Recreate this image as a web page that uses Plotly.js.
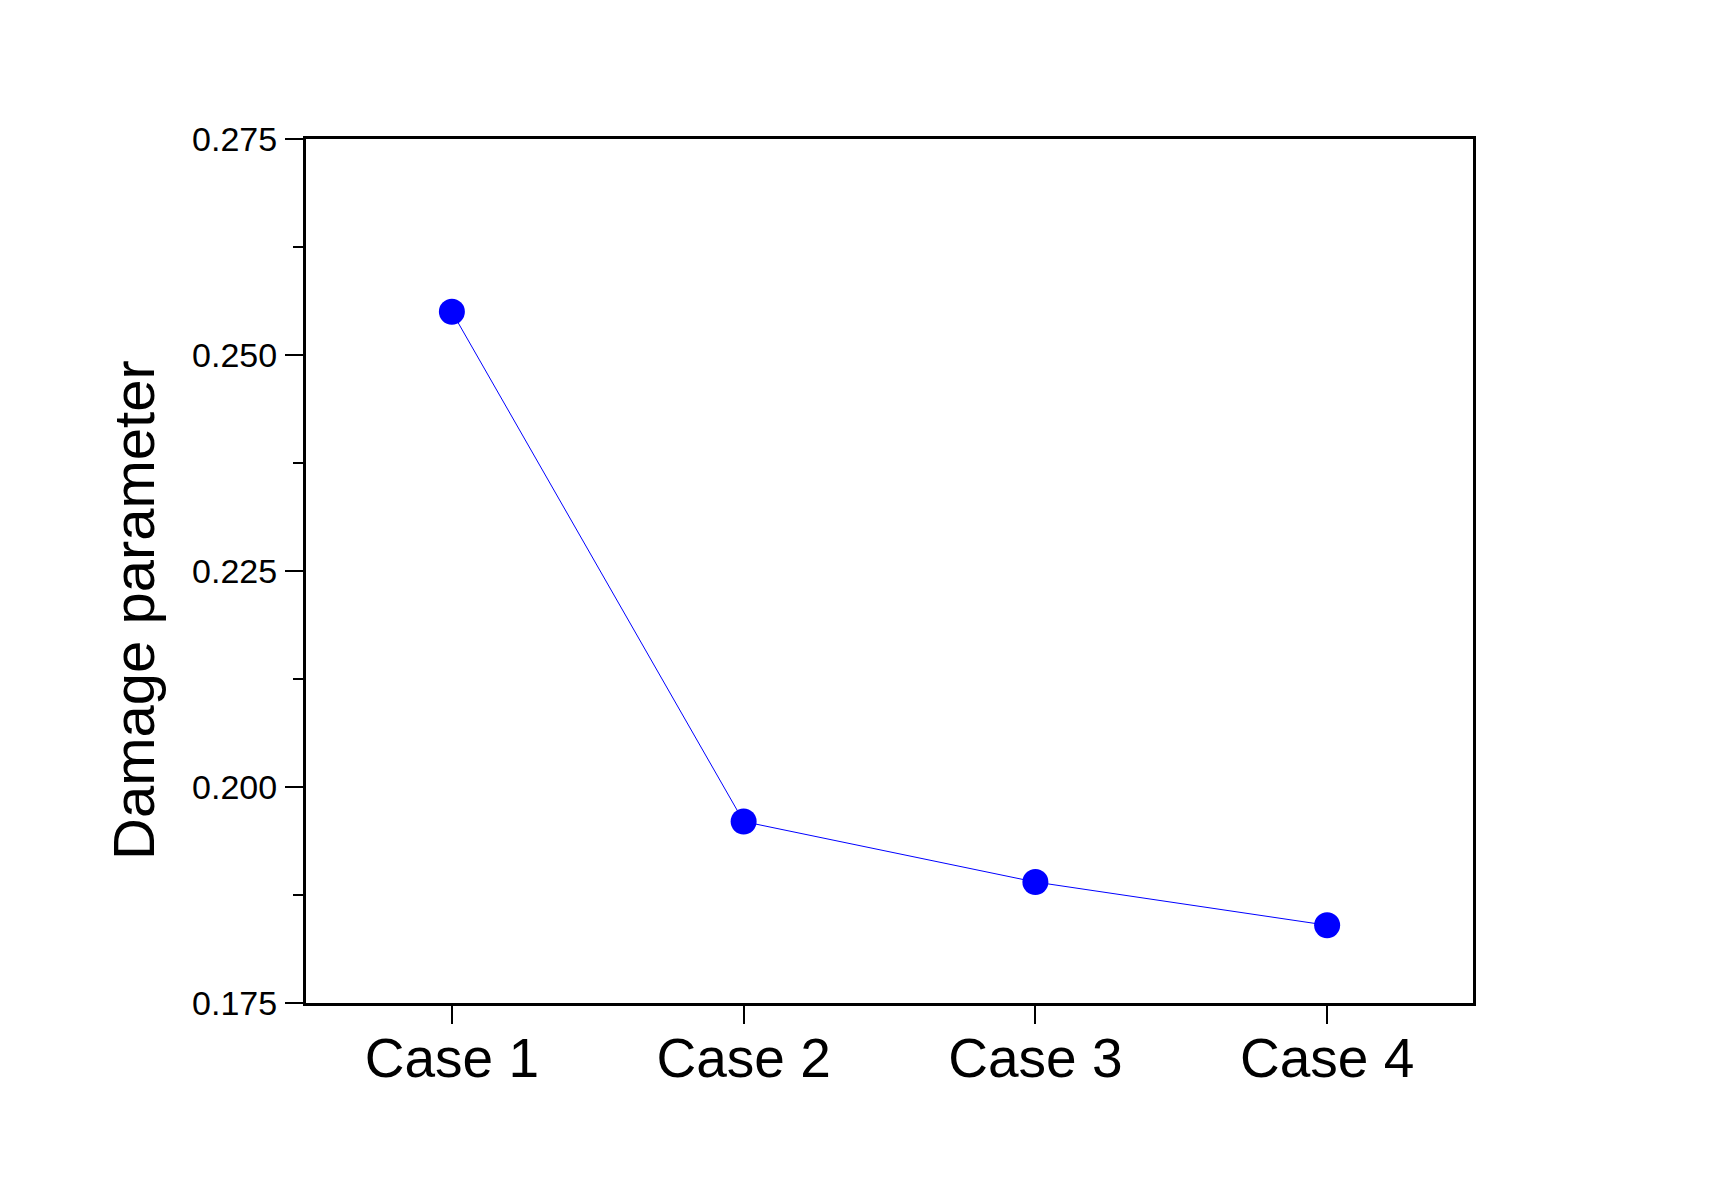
<!DOCTYPE html>
<html>
<head>
<meta charset="utf-8">
<script src="https://cdn.plot.ly/plotly-3.0.1.min.js"></script>
<style>html,body{margin:0;padding:0;background:#fff;}#chart{width:1710px;height:1203px;}</style>
</head>
<body>
<div id="chart"></div>
<script>
const categories = ["Case 1", "Case 2", "Case 3", "Case 4"];
const damageParameter = [0.255, 0.196, 0.189, 0.184];
const yTickValues = [0.175, 0.200, 0.225, 0.250, 0.275];
const yTitle = "Damage parameter";

const FONT = "Liberation Sans, Arial, Helvetica, sans-serif";

const trace = {
  x: categories,
  y: damageParameter,
  type: "scatter",
  mode: "lines+markers",
  line: {color: "#0000ff", width: 1},
  marker: {color: "#0000ff", size: 26, line: {width: 0}},
  showlegend: false,
  hoverinfo: "x+y"
};

const layout = {
  width: 1710,
  height: 1203,
  paper_bgcolor: "#ffffff",
  plot_bgcolor: "#ffffff",
  margin: {l: 306, r: 237, t: 139, b: 200, pad: 0},
  showlegend: false,
  xaxis: {
    type: "category",
    range: [-0.5, 3.5],
    showgrid: false,
    zeroline: false,
    showline: true,
    linecolor: "#000000",
    linewidth: 3,
    mirror: true,
    ticks: "outside",
    ticklen: 18,
    tickwidth: 2,
    tickcolor: "#000000",
    ticklabelstandoff: -13,
    tickfont: {family: FONT, size: 55, color: "#000000"}
  },
  yaxis: {
    range: [0.175, 0.275],
    tickvals: yTickValues,
    tickformat: ".3f",
    showgrid: false,
    zeroline: false,
    showline: true,
    linecolor: "#000000",
    linewidth: 3,
    mirror: true,
    ticks: "outside",
    ticklen: 18,
    tickwidth: 2,
    tickcolor: "#000000",
    ticklabelstandoff: 1,
    tickfont: {family: FONT, size: 34, color: "#000000"},
    minor: {dtick: 0.0125, tick0: 0.175, ticks: "outside", ticklen: 10, tickwidth: 2, tickcolor: "#000000", showgrid: false}
  },
  annotations: [{
    text: yTitle,
    xref: "paper", yref: "paper",
    x: -0.1474, y: 0.4549,
    xanchor: "center", yanchor: "middle",
    textangle: -90,
    showarrow: false,
    font: {family: FONT, size: 58, color: "#000000"}
  }]
};

Plotly.newPlot("chart", [trace], layout, {displayModeBar: false, staticPlot: true});
</script>
</body>
</html>
